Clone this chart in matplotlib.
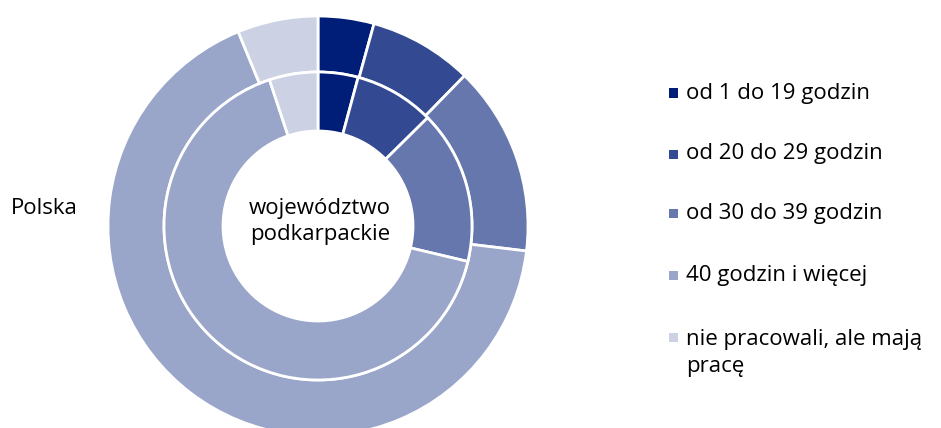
import matplotlib

matplotlib.use("Agg")
import matplotlib.pyplot as plt
from matplotlib.patches import Rectangle

plt.rcParams["font.family"] = ["Open Sans", "DejaVu Sans"]

# Share of employed by hours actually worked (%), clockwise from 12 o'clock
categories = [
    "od 1 do 19 godzin",
    "od 20 do 29 godzin",
    "od 30 do 39 godzin",
    "40 godzin i więcej",
    "nie pracowali, ale mają\npracę",
]
polska = [4.3, 8.0, 14.6, 66.9, 6.2]
podkarpackie = [4.2, 8.4, 16.1, 66.2, 5.1]
colors = ["#001D77", "#334A92", "#6677AD", "#99A5C9", "#CCD2E4"]

W, H = 941, 428
fig = plt.figure(figsize=(W / 100, H / 100), dpi=100)

# pie centre and outer radius in pixels
cx, cy, R = 318, 226, 210
ax = fig.add_axes([(cx - R) / W, (H - cy - R) / H, 2 * R / W, 2 * R / H])
ax.set_aspect("equal")
ax.axis("off")

wedge_kw = dict(edgecolor="white", linewidth=2.0)
ax.pie(polska, radius=1.0, colors=colors, startangle=90, counterclock=False,
       wedgeprops=dict(width=1.0 - 154 / R, **wedge_kw))
ax.pie(podkarpackie, radius=154 / R, colors=colors, startangle=90, counterclock=False,
       wedgeprops=dict(width=(154 - 95) / R, **wedge_kw))
ax.set_xlim(-1, 1)
ax.set_ylim(-1, 1)

fs = 16
fig.text(11 / W, 1 - 208 / H, "Polska", fontsize=fs, ha="left", va="center")
ax.text(0.01, 0.02, "województwo\npodkarpackie", fontsize=fs, ha="center", va="center",
        linespacing=1.3)

# legend
row_y = [93, 154, 214, 275, 337]
for lab, col, y in zip(categories, colors, row_y):
    fig.patches.append(Rectangle((669 / W, 1 - (y + 4.5) / H), 9 / W, 9 / H,
                                 transform=fig.transFigure, facecolor=col, edgecolor="none"))
    if "\n" in lab:
        fig.text(686 / W, 1 - (y - 8) / H, lab, fontsize=fs, ha="left", va="top",
                 linespacing=1.38)
    else:
        fig.text(686 / W, 1 - y / H, lab, fontsize=fs, ha="left", va="center")

fig.savefig("out.png", dpi=100)
